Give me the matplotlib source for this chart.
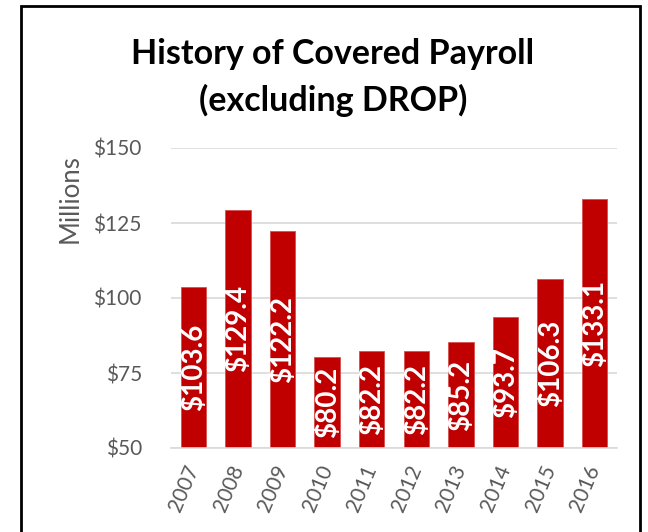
import matplotlib
matplotlib.use("Agg")
import matplotlib.pyplot as plt
from matplotlib.patches import Rectangle

years = ["2007", "2008", "2009", "2010", "2011", "2012", "2013", "2014", "2015", "2016"]
payroll = [103.6, 129.4, 122.2, 80.2, 82.2, 82.2, 85.2, 93.7, 106.3, 133.1]
yticks = [50, 75, 100, 125, 150]
ytick_labels = ["$50", "$75", "$100", "$125", "$150"]

plt.rcParams['font.family'] = ['Lato', 'DejaVu Sans']

W, H = 648, 532
fig = plt.figure(figsize=(W / 100, H / 100), dpi=100)
fig.patch.set_facecolor("white")

# outer frame
fig.patches.append(Rectangle((21 / W, -0.05), (640 - 21) / W, 1.05 - 6 / H,
                             transform=fig.transFigure, fill=False,
                             edgecolor="black", linewidth=2))

ax = fig.add_axes([171 / W, 1 - 448 / H, (617 - 171) / W, (448 - 148) / H])
x = range(len(years))
bars = ax.bar(x, payroll, width=0.57, color="#C00000", edgecolor="#D65050",
              linewidth=0.6, zorder=3, bottom=0)
ax.set_ylim(50, 150)
ax.set_xlim(-0.5, len(years) - 0.5)
ax.set_yticks(yticks)
ax.set_yticklabels(ytick_labels)
ax.set_xticks(list(x))
ax.set_xticklabels(years, rotation=67, rotation_mode="anchor", ha="right", va="center")
ax.tick_params(axis="both", length=0, labelsize=15, colors="#595959")
ax.tick_params(axis="y", pad=21)
ax.tick_params(axis="x", pad=13)
ax.grid(axis="y", color="#D9D9D9", linewidth=1.2, zorder=0)
for s in ["top", "right", "left"]:
    ax.spines[s].set_visible(False)
ax.spines["bottom"].set_color("#D9D9D9")
ax.spines["bottom"].set_linewidth(1.2)
ax.spines["bottom"].set_zorder(4)

for xi, v in zip(x, payroll):
    ax.text(xi, (50 + v) / 2, f"${v:.1f}", rotation=90, ha="center", va="center",
            color="white", fontsize=20, fontweight="bold", zorder=5)

ax.set_ylabel("Millions", fontsize=18.5, color="#595959")
ax.yaxis.set_label_coords(-0.198, 0.83)

fig.text(333 / W, 1 - 54 / H, "History of Covered Payroll", ha="center", va="center",
         fontsize=24.5, fontweight="bold", color="black")
fig.text(333 / W, 1 - 100 / H, "(excluding DROP)", ha="center", va="center",
         fontsize=24.5, fontweight="bold", color="black")

fig.savefig("out.png", dpi=100)
